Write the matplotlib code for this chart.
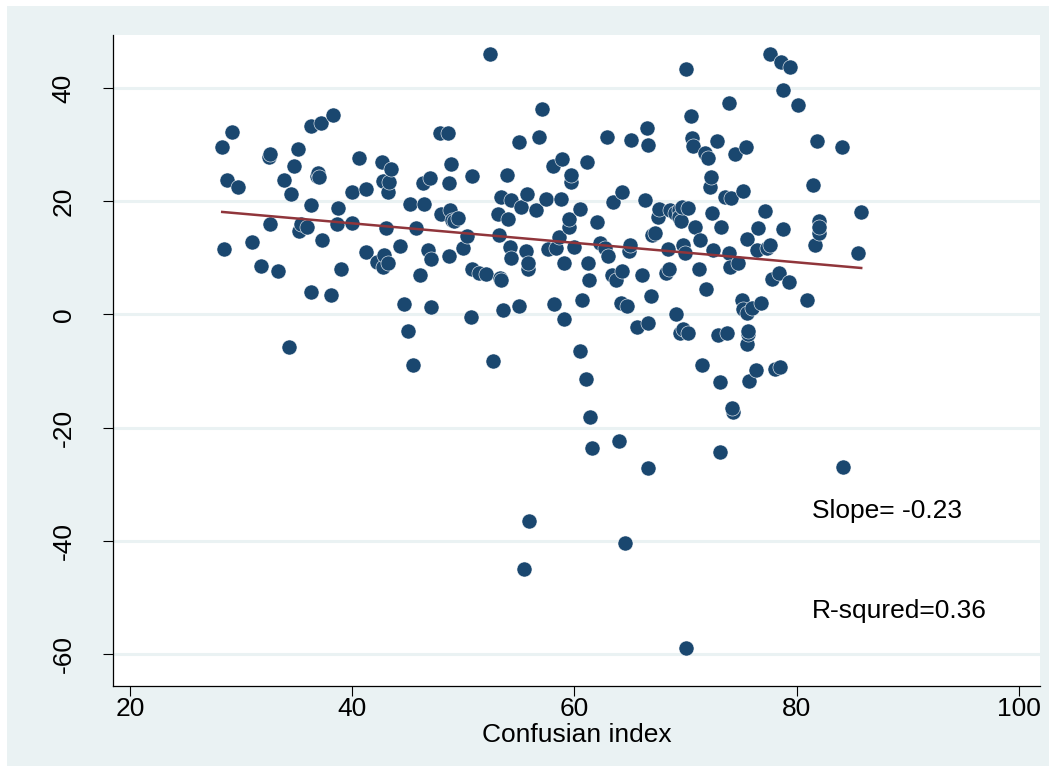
import numpy as np
import matplotlib
matplotlib.use("Agg")
import matplotlib.pyplot as plt
from matplotlib.patches import Rectangle

plt.rcParams['font.family'] = ['Liberation Sans', 'DejaVu Sans']
plt.rcParams['axes.unicode_minus'] = False

points = [
    (28.3, 29.5), (28.5, 11.5), (28.7, 23.8), (29.2, 32.2), (29.7, 22.5),
    (31.0, 12.8), (31.8, 8.5), (32.5, 27.8), (32.6, 28.3), (32.6, 16.0),
    (33.3, 7.7), (33.9, 23.8), (34.3, -5.7), (34.5, 21.2), (34.8, 26.2),
    (35.1, 29.2), (35.2, 14.8), (35.4, 16.0), (35.9, 15.5), (36.3, 4.0),
    (36.3, 19.3), (36.3, 33.3), (36.8, 24.5), (36.9, 25.0), (37.0, 24.2),
    (37.2, 33.9), (37.3, 13.2), (38.1, 3.4), (38.3, 35.3), (38.6, 16.0),
    (38.7, 18.8), (39.0, 8.0), (40.0, 21.6), (40.0, 16.2), (40.6, 27.6),
    (41.2, 22.2), (41.2, 11.1), (42.2, 9.3), (42.7, 27.0), (42.8, 23.5),
    (42.8, 8.3), (42.9, 10.5), (43.0, 15.3), (43.2, 9.1), (43.2, 21.6),
    (43.3, 23.4), (43.5, 25.7), (44.3, 12.1), (44.7, 1.8), (45.0, -3.0),
    (45.2, 19.5), (45.5, -9.0), (45.7, 15.2), (46.1, 6.9), (46.4, 23.2),
    (46.5, 19.5), (46.8, 11.4), (47.0, 24.1), (47.1, 1.3), (47.1, 9.8),
    (47.9, 32.0), (48.0, 17.8), (48.6, 32.1), (48.7, 23.2), (48.7, 10.3),
    (48.8, 18.4), (48.9, 26.6), (49.0, 16.7), (49.2, 16.5), (49.5, 17.0),
    (50.0, 11.8), (50.3, 13.8), (50.8, 8.0), (50.8, 24.5), (50.7, -0.5),
    (51.4, 7.3), (52.0, 7.1), (52.4, 46.0), (52.7, -8.2), (53.1, 17.7),
    (53.2, 14.0), (53.4, 20.8), (53.3, 6.5), (53.4, 6.0), (53.6, 0.8),
    (53.9, 24.6), (54.0, 16.8), (54.3, 20.2), (54.2, 11.9), (54.3, 10.0),
    (55.0, 30.5), (55.0, 1.5), (55.2, 19.0), (55.5, -45.0), (55.6, 11.2),
    (55.7, 21.2), (55.8, 8.0), (55.8, 9.0), (55.9, -36.5), (56.5, 18.5),
    (56.8, 31.3), (57.1, 36.3), (57.4, 20.3), (57.6, 11.5), (58.1, 26.2),
    (58.2, 1.8), (58.3, 11.8), (58.6, 13.6), (58.8, 20.3), (58.9, 27.5),
    (59.1, -0.8), (59.1, 9.0), (59.5, 15.5), (59.5, 16.8), (59.7, 23.4),
    (59.7, 24.7), (60.0, 11.9), (60.5, 18.6), (60.5, -6.5), (60.7, 2.5),
    (61.0, -11.5), (61.1, 27.0), (61.2, 9.1), (61.3, 6.1), (61.4, -18.1),
    (61.6, -23.6), (62.0, 16.4), (62.3, 12.6), (62.7, 11.7), (62.9, 31.3),
    (63.0, 10.4), (63.4, 7.0), (63.5, 19.8), (63.7, 6.0), (64.0, -22.3),
    (64.3, 21.6), (64.2, 2.0), (64.3, 7.6), (64.5, -40.3), (64.7, 1.5),
    (64.9, 11.2), (65.0, 12.2), (65.1, 30.8), (65.6, -2.3), (66.1, 7.0),
    (66.3, 20.2), (66.5, 32.9), (66.6, 30.0), (66.6, -1.5), (66.6, -27.1),
    (66.9, 3.3), (67.0, 14.1), (67.2, 14.4), (67.5, 17.2), (67.6, 18.6),
    (68.2, 7.3), (68.4, 11.5), (68.5, 8.0), (68.6, 18.5), (69.0, 18.0),
    (69.1, 0.0), (69.4, 18.5), (69.4, 17.2), (69.5, -3.3), (69.6, 16.5),
    (69.7, 19.0), (69.8, 12.3), (69.9, 10.8), (69.8, -2.5), (70.0, -59.0),
    (70.0, 43.3), (70.2, 18.8), (70.2, -3.3), (70.5, 35.0), (70.6, 31.2),
    (70.7, 29.8), (70.8, 15.5), (71.2, 8.0), (71.3, 13.1), (71.5, -9.0),
    (71.7, 28.5), (71.8, 4.5), (72.0, 27.7), (72.2, 22.5), (72.3, 24.2),
    (72.4, 18.0), (72.5, 11.3), (72.8, 30.6), (72.9, -3.6), (73.1, -12.0),
    (73.2, 15.4), (73.1, -24.3), (73.5, 20.7), (73.7, -3.2), (73.9, 37.3),
    (73.9, 10.8), (74.0, 8.3), (74.1, 20.6), (74.3, -17.2), (74.2, -16.6),
    (74.4, 28.3), (74.7, 9.0), (75.1, 2.5), (75.2, 1.0), (75.2, 21.8),
    (75.4, 29.6), (75.5, 13.4), (75.5, -5.2), (75.6, -3.5), (75.6, -3.0),
    (75.5, 0.2), (75.7, -11.7), (76.0, 1.2), (76.4, 11.3), (76.5, 15.3),
    (76.3, -9.8), (76.8, 2.1), (77.1, 18.2), (77.3, 11.7), (77.6, 12.3),
    (77.6, 46.0), (77.8, 6.2), (78.0, -9.7), (78.4, 7.4), (78.5, -9.3),
    (78.6, 44.6), (78.8, 15.0), (78.8, 39.7), (79.3, 5.8), (79.4, 43.7),
    (80.1, 37.0), (80.9, 2.6), (81.5, 22.9), (81.6, 12.3), (81.8, 30.6),
    (82.0, 16.5), (82.0, 14.3), (82.0, 15.5), (84.1, 29.6), (84.2, -27.0),
    (85.5, 10.8), (85.8, 18.1),
]
confusion_index = [p[0] for p in points]
outcome = [p[1] for p in points]

fit_x = [28.3, 85.8]
fit_y = [18.1, 8.2]

x_ticks = [20, 40, 60, 80, 100]
y_ticks = [-60, -40, -20, 0, 20, 40]
x_label = "Confusian index"
note_slope = "Slope= -0.23"
note_r2 = "R-squred=0.36"

W, H = 1056, 771
fig = plt.figure(figsize=(W / 100, H / 100), dpi=100)
fig.patch.set_facecolor('white')
bg = Rectangle((7 / W, 1 - 766 / H), (1049 - 7) / W, (766 - 6) / H,
               transform=fig.transFigure, facecolor='#EAF2F3',
               edgecolor='none', zorder=-10)
fig.add_artist(bg)

ax = fig.add_axes([113 / W, 1 - 686 / H, (1040 - 113) / W, (686 - 35) / H])
ax.set_zorder(1)
ax.set_facecolor('white')
ax.set_xlim(18.47, 101.89)
ax.set_ylim(-65.65, 49.36)

for yv in y_ticks:
    ax.axhline(yv, color='#EAF2F3', lw=2.2, zorder=1)

ax.scatter(confusion_index, outcome, s=118, color='#1A476F', edgecolors='white',
           linewidths=0.4, zorder=3)
ax.plot(fit_x, fit_y, color='#90353B', lw=1.8, zorder=4)

ax.set_xticks(x_ticks)
ax.set_yticks(y_ticks)
ax.tick_params(axis='both', length=7, width=0.8, color='black', labelsize=19)
ax.tick_params(axis='x', pad=1)
ax.tick_params(axis='y', pad=20)
for lab in ax.get_yticklabels():
    lab.set_rotation(90)
    lab.set_va('center')
ax.set_xlabel(x_label, fontsize=19, labelpad=1)

for side in ['top', 'right']:
    ax.spines[side].set_visible(False)
for side in ['left', 'bottom']:
    ax.spines[side].set_color('black')
    ax.spines[side].set_linewidth(0.9)

ax.text(81.4, -34.7, note_slope, fontsize=19, va='center', ha='left', zorder=5)
ax.text(81.4, -52.4, note_r2, fontsize=19, va='center', ha='left', zorder=5)

fig.savefig('out.png', dpi=100, facecolor=fig.get_facecolor())
